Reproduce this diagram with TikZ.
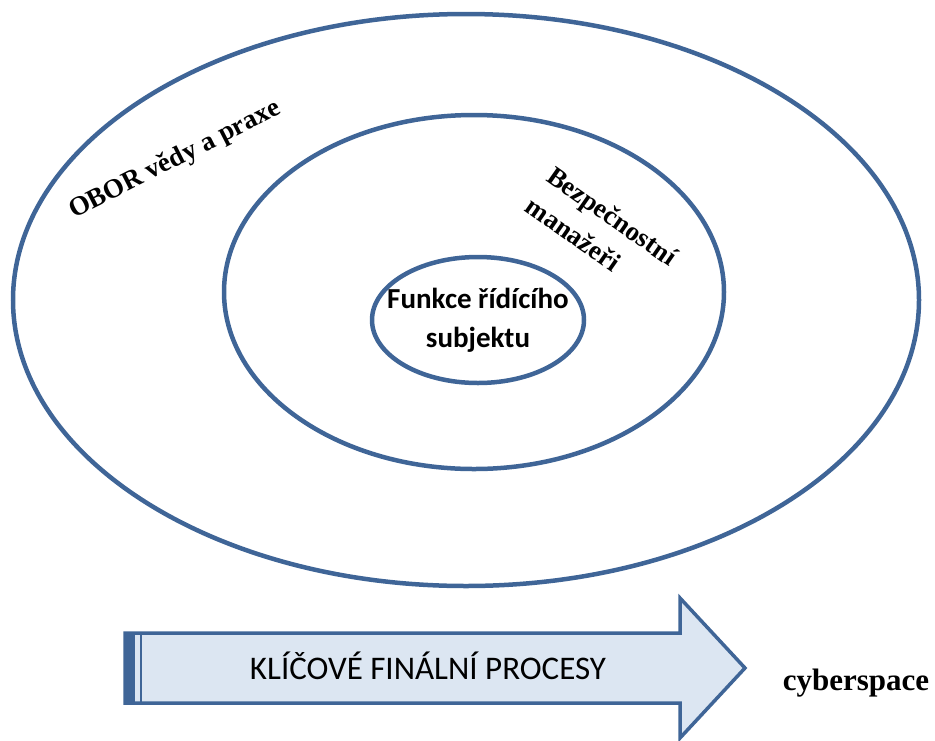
\documentclass[tikz,border=0pt]{standalone}
\usepackage{fontspec}
\setmainfont{Liberation Serif}
\newfontfamily\calibri{Carlito}
\usetikzlibrary{shapes.geometric}
\definecolor{ringblue}{HTML}{3F6597}
\definecolor{arrowfill}{HTML}{DCE6F2}
\tikzset{
  ring/.style={draw=ringblue, line width=4.5pt, ellipse, inner sep=0pt},
  ringlabel/.style={font=\bfseries\fontsize{27}{37}\selectfont, align=left, inner sep=0pt}
}
\begin{document}
\begin{tikzpicture}[x=1pt,y=-1pt]
    \useasboundingbox (0,0) rectangle (935,740);
    % rings
    \node[ring, minimum width=906pt, minimum height=572pt] (obor) at (466,300) {};
    \node[ring, minimum width=500pt, minimum height=354pt] (manazeri) at (474,292) {};
    \node[ring, minimum width=212pt, minimum height=126pt] (funkce) at (478,320) {};
    \node[align=center, inner sep=0pt, font=\calibri\bfseries\fontsize{29}{39}\selectfont]
        (funkcelabel) at (funkce.center) {Funkce řídícího\\subjektu};
    \node[ringlabel, rotate=27] (oborlabel) at (175,160) {OBOR vědy a praxe};
    \node[ringlabel, rotate=-35] (manazerilabel) at (602,231) {Bezpečnostní\\manažeři};

    % process arrow
    \filldraw[fill=arrowfill, draw=ringblue, line width=3.5pt, line join=miter]
        (125,633) -- (680,633) -- (680,598) -- (745,668) -- (680,738) -- (680,703) -- (125,703) -- cycle;
    \fill[ringblue] (125,633) rectangle (135,703);
    \draw[ringblue, line width=2.5pt] (141,633) -- (141,703);
    \node[font=\calibri\fontsize{33}{40}\selectfont, anchor=base, inner sep=0pt] (procesy) at (428,679) {KLÍČOVÉ FINÁLNÍ PROCESY};
    \node[font=\bfseries\fontsize{31}{36}\selectfont, anchor=base, inner sep=0pt] (cyberspace) at (856,690) {cyberspace};
\end{tikzpicture}
\end{document}
